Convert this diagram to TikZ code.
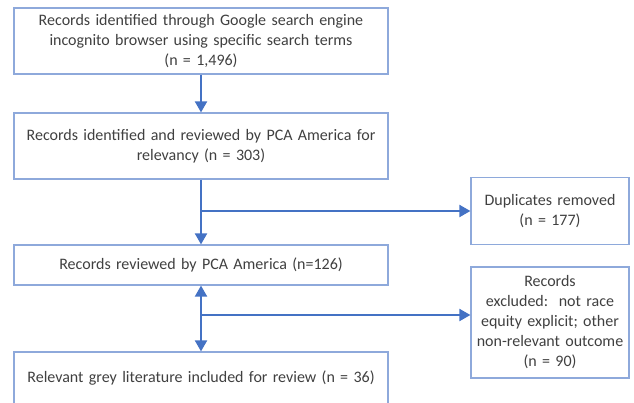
\documentclass[tikz,border=0pt]{standalone}
\usepackage{fontspec}
\setmainfont{Carlito}
\usetikzlibrary{arrows.meta}
\definecolor{boxline}{HTML}{8EA9DB}
\definecolor{arr}{HTML}{4472C4}
\definecolor{txt}{HTML}{404040}
\tikzset{
  box/.style={draw=boxline, line width=1.2pt, fill=white, align=center, text=txt,
    font=\fontsize{16}{20}\selectfont, inner sep=2pt},
  wide/.style={box, minimum width=374pt, text width=366pt},
  side/.style={box, minimum width=158pt, text width=154pt},
  conn/.style={draw=arr, line width=2pt, -{Triangle[length=11pt,width=12pt]}},
}
\begin{document}
\begin{tikzpicture}[x=1pt,y=-1pt]
\path[use as bounding box] (0,0) rectangle (634,402);
\clip (0,0) rectangle (634,402);
\node[wide, minimum height=66pt] (b1) at (201,41) {Records identified through Google search engine\\incognito browser using specific search terms\\(n = 1,496)};
\node[wide, minimum height=66pt] (b2) at (201,146) {Records identified and reviewed by PCA America for\\relevancy (n = 303)};
\node[wide, minimum height=40pt] (b3) at (201,265) {Records reviewed by PCA America (n=126)};
\node[wide, minimum height=52pt] (b4) at (201,378) {Relevant grey literature included for review (n = 36)};
\node[side, minimum height=67pt] (dup) at (550,211) {Duplicates removed\\(n = 177)};
\node[side, minimum height=111pt] (exc) at (550,322.5) {Records\\excluded:\ \ not race\\equity explicit; other\\non-relevant outcome\\(n = 90)};
\coordinate (j1) at (201,211);
\coordinate (j2) at (201,315);
\draw[conn] (b1) -- (b2);
\draw[conn] (b2) -- (b3);
\draw[conn] (j1) -- (j1 -| dup.west);
\draw[conn, {Triangle[length=11pt,width=12pt]}-{Triangle[length=11pt,width=12pt]}] (b3) -- (b4);
\draw[conn] (j2) -- (j2 -| exc.west);
\end{tikzpicture}
\end{document}
